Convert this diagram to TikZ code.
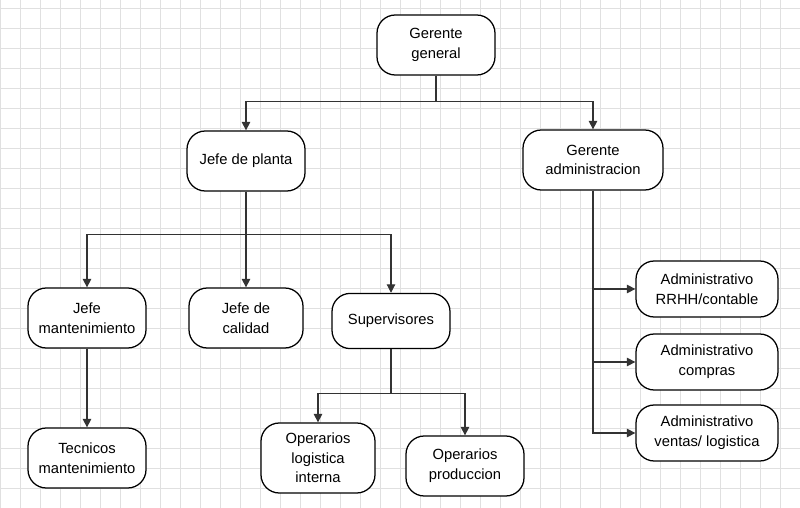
\documentclass[tikz,border=0pt]{standalone}
\usepackage{fontspec}
\setmainfont{Liberation Sans}
\usetikzlibrary{arrows.meta}
\tikzset{
  box/.style={draw=black,fill=white,line width=0.9pt,rounded corners=13pt,
    minimum width=2.95cm,minimum height=1.5cm,align=center,
    font=\fontsize{10.5}{14}\selectfont,inner sep=1pt},
  adminbox/.style={box,minimum width=3.55cm,minimum height=1.4cm},
  link/.style={draw=black!80,line width=0.8pt,-{Triangle[length=6pt,width=6pt]}}
}
\begin{document}
\begin{tikzpicture}
\useasboundingbox (0,0) rectangle (20,12.7);
\draw[step=0.5cm,black!12,very thin] (0,0) grid (20,12.7);

% top
\node[box] (gg) at (10.9,11.575) {Gerente\\general};
\node[box] (jp) at (6.15,8.675) {Jefe de planta};
\node[box,minimum width=3.5cm] (ga) at (14.825,8.7) {Gerente\\administracion};

% planta
\node[box] (jm) at (2.175,4.75) {Jefe\\mantenimiento};
\node[box,minimum width=2.85cm] (jc) at (6.15,4.75) {Jefe de\\calidad};
\node[box,minimum height=1.38cm] (su) at (9.775,4.675) {Supervisores};
\node[box] (tm) at (2.175,1.25) {Tecnicos\\mantenimiento};
\node[box,minimum width=2.85cm,minimum height=1.75cm] (ol) at (7.95,1.25) {Operarios\\logistica\\interna};
\node[box] (op) at (11.625,1.05) {Operarios\\produccion};

% administracion
\node[adminbox] (a1) at (17.675,5.475) {Administrativo\\RRHH/contable};
\node[adminbox] (a2) at (17.675,3.65) {Administrativo\\compras};
\node[adminbox] (a3) at (17.675,1.875) {Administrativo\\ventas/ logistica};

\draw[link] (gg.south) -- ++(0,-0.65) -| (jp.north);
\draw[link] (gg.south) -- ++(0,-0.65) -| (ga.north);

\draw[link] (jp.south) -- ++(0,-1.075) -| (jm.north);
\draw[link] (jp.south) -- (jc.north);
\draw[link] (jp.south) -- ++(0,-1.075) -| (su.north);

\draw[link] (su.south) -- ++(0,-1.1) -| (ol.north);
\draw[link] (su.south) -- ++(0,-1.1) -| (op.north);

\draw[link] (jm.south) -- (tm.north);

\draw[link] (ga.south) |- (a1.west);
\draw[link] (ga.south) |- (a2.west);
\draw[link] (ga.south) |- (a3.west);
\end{tikzpicture}
\end{document}
